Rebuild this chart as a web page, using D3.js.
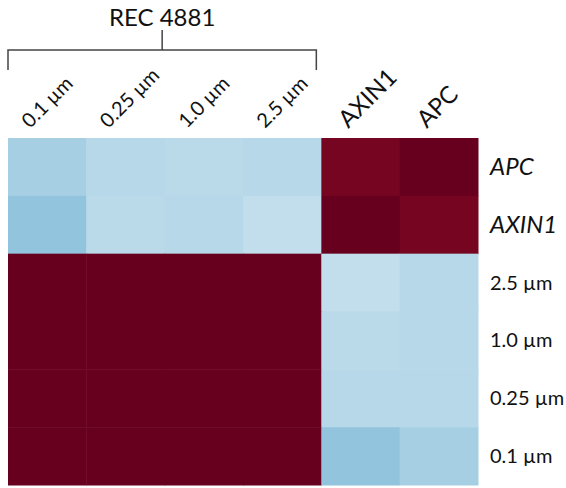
<!DOCTYPE html>
<html>
<head>
<meta charset="utf-8">
<script src="https://cdn.jsdelivr.net/npm/d3@7"></script>
<style>
  html, body { margin: 0; padding: 0; background: #fff; }
  svg { display: block; }
  text { font-family: Lato, "Open Sans", sans-serif; fill: #111; }
</style>
</head>
<body>
<div id="chart"></div>
<script>
// ---- data ----
const columns = ["0.1 µm", "0.25 µm", "1.0 µm", "2.5 µm", "AXIN1", "APC"];
const rows = ["APC", "AXIN1", "2.5 µm", "1.0 µm", "0.25 µm", "0.1 µm"];
const italicLabels = ["APC", "AXIN1"];
const groupTitle = "REC 4881";
const groupColumns = ["0.1 µm", "0.25 µm", "1.0 µm", "2.5 µm"];

const rowAPC   = [-0.33, -0.28, -0.27, -0.28, 0.96, 1.00];
const rowAXIN1 = [-0.39, -0.27, -0.28, -0.24, 1.00, 0.96];
const row2_5   = [1.00, 1.00, 1.00, 1.00, -0.24, -0.28];
const row1_0   = [1.00, 1.00, 1.00, 1.00, -0.27, -0.28];
const row0_25  = [1.00, 1.00, 1.00, 1.00, -0.28, -0.28];
const row0_1   = [1.00, 1.00, 1.00, 1.00, -0.39, -0.33];
const matrix = [rowAPC, rowAXIN1, row2_5, row1_0, row0_25, row0_1];

// ---- layout ----
const W = 566, H = 488;
const svg = d3.select("#chart").append("svg").attr("width", W).attr("height", H);

const x = d3.scaleBand().domain(columns).range([8, 478]).padding(0);
const y = d3.scaleBand().domain(rows).range([138, 485]).padding(0);
const color = d3.scaleSequential(d3.interpolateRdBu).domain([1, -1]);

const cells = [];
rows.forEach((r, i) => columns.forEach((c, j) => cells.push({ r, c, v: matrix[i][j] })));

svg.append("g").selectAll("rect").data(cells).join("rect")
  .attr("x", d => x(d.c))
  .attr("y", d => y(d.r))
  .attr("width", x.bandwidth() + 0.5)
  .attr("height", y.bandwidth() + 0.5)
  .attr("fill", d => color(d.v));

// column labels (rotated)
svg.append("g").selectAll("text").data(columns).join("text")
  .attr("transform", d => {
    const off = italicLabels.includes(d) ? 27 : 22;
    return `translate(${x(d) + off},${129}) rotate(-45)`;
  })
  .attr("text-anchor", "start")
  .style("font-size", d => italicLabels.includes(d) ? "24px" : "20px")
  .text(d => d);

// row labels
svg.append("g").selectAll("text").data(rows).join("text")
  .attr("x", 490)
  .attr("y", d => y(d) + y.bandwidth() / 2)
  .attr("dy", "0.35em")
  .style("font-size", d => italicLabels.includes(d) ? "24px" : "20px")
  .style("font-style", d => italicLabels.includes(d) ? "italic" : "normal")
  .text(d => d);

// group bracket
const gx0 = x(groupColumns[0]), gx1 = x(groupColumns[groupColumns.length - 1]) + x.bandwidth() - 5;
const gmid = (gx0 + gx1) / 2;
svg.append("path")
  .attr("d", `M${gx0},70 V50 H${gx1} V70 M${gmid},50 V30`)
  .attr("fill", "none")
  .attr("stroke", "#444")
  .attr("stroke-width", 1.5);

svg.append("text")
  .attr("x", gmid)
  .attr("y", 26)
  .attr("text-anchor", "middle")
  .style("font-size", "24px")
  .text(groupTitle);
</script>
</body>
</html>
